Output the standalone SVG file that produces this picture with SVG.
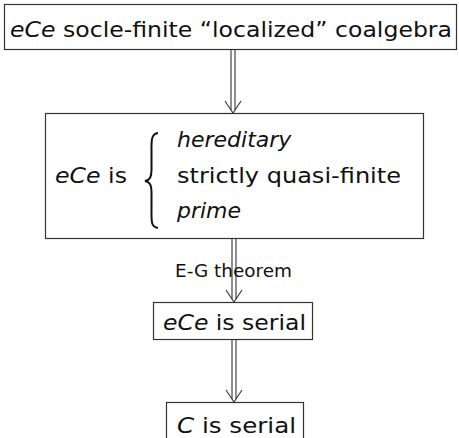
<svg xmlns="http://www.w3.org/2000/svg" width="459" height="438" viewBox="0 0 459 438">
<style>
.box{fill:#fff;stroke:#333;stroke-width:1.2}
.t{font-family:"DejaVu Sans",sans-serif;font-size:22px;fill:#111}
.i{font-style:italic}
.lbl{font-family:"DejaVu Sans",sans-serif;font-size:18px;fill:#111}
.ln{stroke:#333;stroke-width:1.1;fill:none}
</style>
<rect width="459" height="438" fill="#fff"/>
<g id="connectors">
<g id="c1">
<path class="ln" d="M231,49.5 V110 M235,49.5 V110"/>
<path class="ln" d="M225,101 L233,113 L241,101"/>
</g>
<g id="c2">
<path class="ln" d="M232,238.5 V299 M236,238.5 V299"/>
<path class="ln" d="M226,290 L234,302 L242,290"/>
<text class="lbl" x="233.5" y="277" text-anchor="middle" textLength="117" lengthAdjust="spacingAndGlyphs">E-G theorem</text>
</g>
<g id="c3">
<path class="ln" d="M232,339.5 V399 M236,339.5 V399"/>
<path class="ln" d="M226,390 L234,402 L242,390"/>
</g>
</g>
<g id="n1">
<rect class="box" x="4.5" y="4.5" width="452" height="45"/>
<text class="t" x="10" y="37" textLength="442" lengthAdjust="spacingAndGlyphs"><tspan class="i">eCe</tspan> socle-finite “localized” coalgebra</text>
</g>
<g id="n2">
<rect class="box" x="45.5" y="113.5" width="378" height="125"/>
<text class="t" x="55" y="183" textLength="72" lengthAdjust="spacingAndGlyphs"><tspan class="i">eCe</tspan> is</text>
<path d="M158,133 C151,134 151.5,141 151.5,150 L151.5,170 C151.5,177 150,180 145,181 C150,182 151.5,185 151.5,192 L151.5,212 C151.5,221 151,227 158,228" fill="none" stroke="#111" stroke-width="2"/>
<text class="t i" x="177" y="147">hereditary</text>
<text class="t" x="177" y="183" textLength="224" lengthAdjust="spacingAndGlyphs">strictly quasi-finite</text>
<text class="t i" x="177" y="218">prime</text>
</g>
<g id="n3">
<rect class="box" x="153.5" y="302.5" width="159" height="37"/>
<text class="t" x="163" y="330" textLength="143" lengthAdjust="spacingAndGlyphs"><tspan class="i">eCe</tspan> is serial</text>
</g>
<g id="n4">
<rect class="box" x="166.5" y="402.5" width="137" height="40"/>
<text class="t" x="177" y="433" textLength="119" lengthAdjust="spacingAndGlyphs"><tspan class="i">C</tspan> is serial</text>
</g>
</svg>
